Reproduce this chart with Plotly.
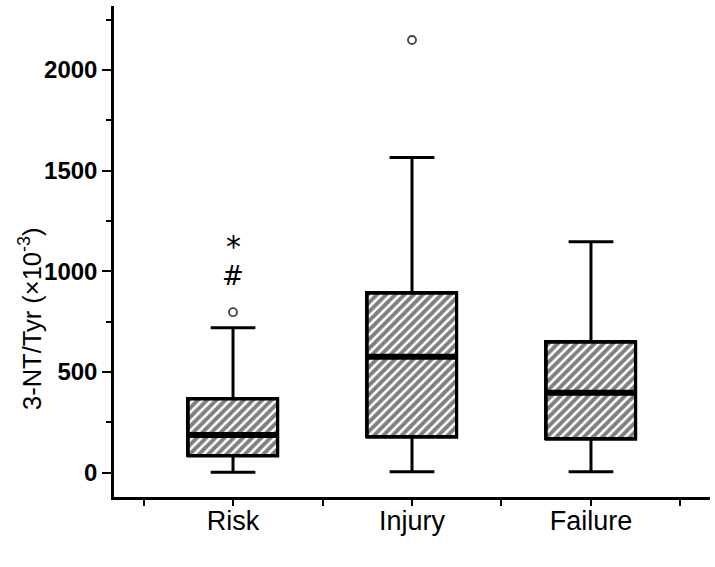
import plotly.graph_objects as go

# ---- data ----
categories = ["Risk", "Injury", "Failure"]
q1 = [83, 176, 166]
median = [187, 576, 397]
q3 = [366, 891, 648]
lower_whisker = [2, 5, 5]
upper_whisker = [720, 1565, 1147]
outlier_group = [0, 1]
outlier_values = [797, 2149]
y_ticks = [0, 500, 1000, 1500, 2000]
marker_labels = ["*", "#"]
marker_values = [1156, 977]

pos = list(range(len(categories)))
box_w = 0.5

fig = go.Figure()

# hatched box bodies
fig.add_trace(go.Bar(
    x=pos, base=q1, y=[b - a for a, b in zip(q1, q3)], width=box_w,
    marker=dict(color="white",
                pattern=dict(shape="/", fgcolor="black", bgcolor="white", size=6.5, solidity=0.6),
                line=dict(color="black", width=3)),
    showlegend=False, hoverinfo="skip",
))

# whiskers and outline
fig.add_trace(go.Box(
    x=pos, q1=q1, median=median, q3=q3,
    lowerfence=lower_whisker, upperfence=upper_whisker,
    width=box_w, whiskerwidth=0.5,
    line=dict(color="black", width=3),
    fillcolor="rgba(0,0,0,0)", boxpoints=False, showlegend=False,
))

# thick medians
mx, my = [], []
for p, m in zip(pos, median):
    mx += [p - box_w / 2, p + box_w / 2, None]
    my += [m, m, None]
fig.add_trace(go.Scatter(x=mx, y=my, mode="lines",
                         line=dict(color="black", width=6), showlegend=False))

# outliers
fig.add_trace(go.Scatter(
    x=outlier_group, y=outlier_values, mode="markers",
    marker=dict(symbol="circle-open", size=8, color="#444", line=dict(width=1.8)),
    showlegend=False,
))

# significance markers
for lab, v, fs, ys in zip(marker_labels, marker_values, [30, 26], [-7, 0]):
    fig.add_annotation(x=0, y=v, text=lab, showarrow=False, yshift=ys,
                       font=dict(family="DejaVu Sans", size=fs, color="black"))

fig.add_annotation(
    xref="paper", yref="paper", x=-0.141, y=0.3625,
    xanchor="center", yanchor="middle",
    text="3-NT/Tyr (×10<sup>-3</sup>)", textangle=-90, showarrow=False,
    font=dict(family="Liberation Sans, Arial", size=25.5, color="black"),
)

fig.update_layout(
    width=715, height=567,
    margin=dict(l=114, r=5, t=6, b=70, autoexpand=False),
    plot_bgcolor="white", paper_bgcolor="white",
    bargap=0,
    xaxis=dict(
        range=[-0.665, 2.665], tickmode="array", tickvals=pos, ticktext=categories,
        ticks="outside", ticklen=6, tickwidth=2, tickcolor="black",
        minor=dict(tick0=0.5, dtick=1, ticks="outside", ticklen=6, tickwidth=2, tickcolor="black"),
        showline=True, linewidth=2.5, linecolor="black", showgrid=False, zeroline=False,
        automargin=False, ticklabelstandoff=-8,
        tickfont=dict(family="Liberation Sans, Arial", size=27, color="black"),
    ),
    yaxis=dict(
        range=[-121, 2318], tickmode="array", tickvals=y_ticks,
        ticks="outside", ticklen=9, tickwidth=2, tickcolor="black",
        minor=dict(tick0=0, dtick=250, ticks="outside", ticklen=5, tickwidth=2, tickcolor="black"),
        showline=True, linewidth=2.5, linecolor="black", showgrid=False, zeroline=False,
        automargin=False,
        tickfont=dict(family="Liberation Sans, Arial", size=24, color="black", weight="bold"),
    ),
)

fig.write_html("out.html", config={"displayModeBar": False},
               post_script="document.body.style.margin='0';")
